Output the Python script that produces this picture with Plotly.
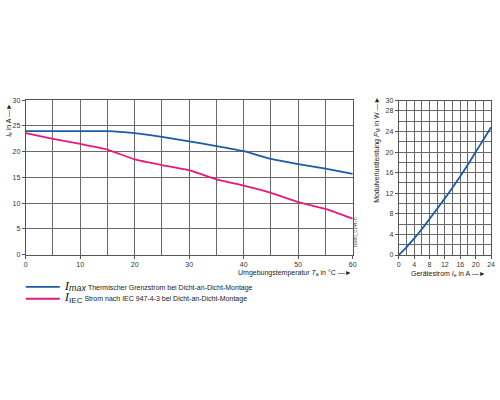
import plotly.graph_objects as go

# Left chart data: ambient temperature vs current
temp = [0, 5, 10, 15, 20, 25, 30, 35, 40, 45, 50, 55, 60]
i_max = [24.0, 24.0, 24.0, 24.0, 23.6, 22.9, 22.0, 21.1, 20.1, 18.6, 17.6, 16.7, 15.7]
i_iec = [23.6, 22.5, 21.5, 20.4, 18.5, 17.4, 16.4, 14.6, 13.4, 12.0, 10.2, 8.9, 7.0]

# Right chart data: device current vs module power loss
cur = [0, 2, 4, 6, 8, 10, 12, 14, 16, 18, 20, 22, 24]
p_m = [0.0, 1.5, 3.2, 5.0, 7.0, 9.0, 11.0, 13.1, 15.3, 17.6, 20.0, 22.4, 24.8]

left_xticks = list(range(0, 61, 10))
left_yticks = list(range(0, 31, 5))
right_xticks = list(range(0, 25, 4))
right_yticks = [0, 4, 8, 12, 16, 20, 24, 28, 30]

BLUE = "#1e5aa8"
PINK = "#e8197c"
GRID = "#6a6a6a"
FONT = "Liberation Sans, Arial, sans-serif"

leg1 = ('<span style="font-family:Liberation Serif;font-size:13px"><i>I</i></span>'
        '<sub><span style="font-size:9px"><i>max</i></span></sub> '
        'Thermischer Grenzstrom bei Dicht-an-Dicht-Montage')
leg2 = ('<span style="font-family:Liberation Serif;font-size:13px"><i>I</i></span>'
        '<sub><span style="font-size:8px">IEC</span></sub> '
        'Strom nach IEC 947-4-3 bei Dicht-an-Dicht-Montage')

fig = go.Figure()
fig.add_trace(go.Scatter(x=temp, y=i_max, mode="lines", name=leg1, legend="legend",
                         line=dict(color=BLUE, width=1.8, shape="spline", smoothing=0.3),
                         xaxis="x", yaxis="y"))
fig.add_trace(go.Scatter(x=temp, y=i_iec, mode="lines", name=leg2, legend="legend2",
                         line=dict(color=PINK, width=1.8, shape="spline", smoothing=0.3),
                         xaxis="x", yaxis="y"))
fig.add_trace(go.Scatter(x=cur, y=p_m, mode="lines", showlegend=False,
                         line=dict(color=BLUE, width=1.8, shape="spline"),
                         xaxis="x2", yaxis="y2"))

axis_common = dict(showgrid=True, gridcolor=GRID, gridwidth=1, zeroline=False,
                   showline=True, linecolor="#555555", linewidth=1, mirror=True,
                   ticks="outside", ticklen=3, tickcolor="#555555",
                   tickfont=dict(size=7, color="#333333", family=FONT))

legend_common = dict(xanchor="left", yanchor="middle",
                     font=dict(size=7, family=FONT, color="#222222"),
                     bgcolor="rgba(0,0,0,0)", itemwidth=34)

fig.update_layout(
    width=500, height=400,
    margin=dict(l=0, r=0, t=0, b=0),
    paper_bgcolor="white", plot_bgcolor="white",
    font=dict(family=FONT, size=7, color="#222222"),
    xaxis=dict(domain=[24/500, 355/500], range=[0, 60], tickvals=left_xticks,
               anchor="y", **axis_common,
               minor=dict(dtick=5, showgrid=True, gridcolor=GRID, gridwidth=1)),
    yaxis=dict(domain=[1-255/400, 1-98/400], range=[0, 30], tickvals=left_yticks,
               anchor="x", **axis_common),
    xaxis2=dict(domain=[401.5/500, 495/500], range=[0, 24], tickvals=right_xticks,
                anchor="y2", **axis_common,
                minor=dict(dtick=2, showgrid=True, gridcolor=GRID, gridwidth=1)),
    yaxis2=dict(domain=[1-255.5/400, 1-98.3/400], range=[0, 30], tickvals=right_yticks,
                anchor="x2", **axis_common,
                minor=dict(dtick=2, showgrid=True, gridcolor=GRID, gridwidth=1)),
    showlegend=True,
    legend=dict(x=19/500, y=1-288/400, **legend_common),
    legend2=dict(x=19/500, y=1-300/400, **legend_common),
)

ann = [
    dict(text="<i>I</i><sub>e</sub> in A —►", x=7/500, y=1-118/400, textangle=-90),
    dict(text="Umgebungstemperatur <i>T</i><sub>a</sub> in °C —►", x=356/500, y=1-274/400,
         xanchor="right"),
    dict(text="NSB0_01447b", x=358/500, y=1-232/400, textangle=-90,
         font=dict(size=4.5, color="#555555", family=FONT)),
    dict(text="Modulverlustleistung <i>P</i><sub>M</sub> in W —►", x=380/500, y=1-148/400,
         textangle=-90),
    dict(text="Gerätestrom <i>I</i><sub>e</sub> in A —►", x=492/500, y=1-275/400,
         xanchor="right"),
]
for a in ann:
    a.setdefault("xanchor", "center")
    a.setdefault("font", dict(size=7, color="#222222", family=FONT))
    fig.add_annotation(xref="paper", yref="paper", showarrow=False, yanchor="middle", **a)

fig.write_html("out.html")
